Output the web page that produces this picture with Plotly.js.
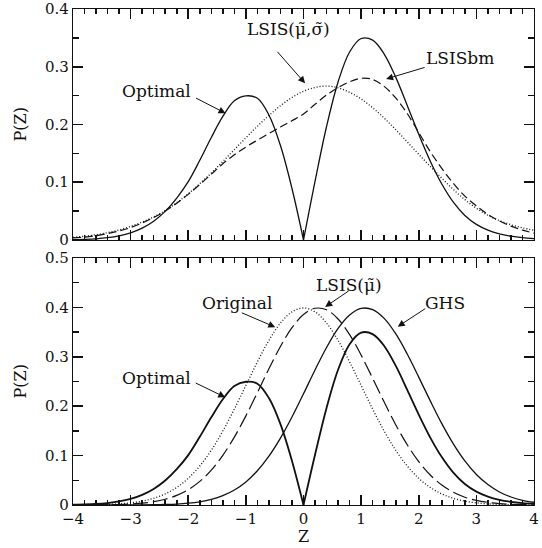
<!DOCTYPE html>
<html>
<head>
<meta charset="utf-8">
<script src="https://cdn.plot.ly/plotly-3.0.1.min.js"></script>
<style>html,body{margin:0;padding:0;background:#fff;}#plot{width:542px;height:548px;}</style>
</head>
<body>
<div id="plot"></div>
<script>
// z grid (step 0.2)
var Z = [-4.0,-3.8,-3.6,-3.4,-3.2,-3.0,-2.8,-2.6,-2.4,-2.2,-2.0,-1.8,-1.6,-1.4,-1.2,-1.0,-0.8,-0.6,-0.4,-0.2,
          0.0, 0.2, 0.4, 0.6, 0.8, 1.0, 1.2, 1.4, 1.6, 1.8, 2.0, 2.2, 2.4, 2.6, 2.8, 3.0, 3.2, 3.4, 3.6, 3.8, 4.0];

// Optimal density (same in both panels), split at the cusp z = 0
var optimalLeft  = [0.0005,0.0010,0.0020,0.0040,0.0072,0.0124,0.0205,0.0325,0.0495,0.0725,0.1010,0.1380,0.1775,0.2140,0.2410,0.2495,0.2455,0.2164,0.1636,0.0892,0.0];
var optimalRight = [0.0,0.1017,0.1965,0.2737,0.3256,0.3489,0.3460,0.3220,0.2820,0.2330,0.1830,0.1365,0.0970,0.0655,0.0425,0.0270,0.0170,0.0105,0.0065,0.0040,0.0025];

// top panel
var lsisMuSigma = [0.0045,0.0065,0.0092,0.0128,0.0175,0.0235,0.0310,0.0400,0.0510,0.0645,0.0800,0.0975,0.1160,0.1360,0.1565,0.1770,0.1970,0.2155,0.2325,0.2468,
                   0.2576,0.2641,0.2665,0.2635,0.2557,0.2442,0.2290,0.2111,0.1911,0.1699,0.1484,0.1274,0.1070,0.0875,0.0700,0.0550,0.0428,0.0335,0.0265,0.0210,0.0168];
var lsisBm = [0.0035,0.0050,0.0075,0.0110,0.0155,0.0215,0.0295,0.0390,0.0500,0.0635,0.0790,0.0960,0.1140,0.1320,0.1475,0.1610,0.1730,0.1845,0.1955,0.2065,
              0.2180,0.2350,0.2510,0.2640,0.2740,0.2800,0.2780,0.2660,0.2460,0.2190,0.1860,0.1530,0.1240,0.0980,0.0760,0.0590,0.0445,0.0330,0.0240,0.0170,0.0118];

// bottom panel
var original = [0.0001,0.0003,0.0006,0.0012,0.0024,0.0044,0.0079,0.0136,0.0224,0.0355,0.0540,0.0790,0.1109,0.1497,0.1942,0.2420,0.2897,0.3332,0.3683,0.3910,
                0.3989,0.3910,0.3683,0.3332,0.2897,0.2420,0.1942,0.1497,0.1109,0.0790,0.0540,0.0355,0.0224,0.0136,0.0079,0.0044,0.0024,0.0012,0.0006,0.0003,0.0001];
var lsisMu = [0.0000,0.0001,0.0002,0.0005,0.0010,0.0020,0.0037,0.0067,0.0116,0.0194,0.0310,0.0478,0.0707,0.1006,0.1374,0.1804,0.2275,0.2756,0.3209,0.3589,
              0.3857,0.3982,0.3951,0.3765,0.3448,0.3034,0.2565,0.2083,0.1626,0.1219,0.0878,0.0608,0.0404,0.0258,0.0158,0.0093,0.0053,0.0029,0.0015,0.0008,0.0004];
var ghs = [0.0000,0.0000,0.0000,0.0000,0.0000,0.0001,0.0002,0.0005,0.0010,0.0019,0.0036,0.0065,0.0113,0.0189,0.0303,0.0468,0.0694,0.0989,0.1354,0.1781,
           0.2251,0.2733,0.3188,0.3573,0.3846,0.3980,0.3956,0.3778,0.3467,0.3056,0.2589,0.2107,0.1647,0.1238,0.0893,0.0619,0.0413,0.0264,0.0162,0.0096,0.0055];

var zLeft = Z.slice(0, 21), zRight = Z.slice(20);
var FONT = 'DejaVu Serif, Liberation Serif, serif';
var INK = '#111111';

function tr(x, y, xa, ya, width, dash) {
  return {x: x, y: y, xaxis: xa, yaxis: ya, type: 'scatter', mode: 'lines',
          line: {color: INK, width: width, dash: dash, shape: 'spline', smoothing: 1}};
}

var data = [
  // top panel
  tr(zLeft, optimalLeft, 'x2', 'y2', 1.3, 'solid'),
  tr(zRight, optimalRight, 'x2', 'y2', 1.3, 'solid'),
  tr(Z, lsisMuSigma, 'x2', 'y2', 1.3, '1px,2px'),
  tr(Z, lsisBm, 'x2', 'y2', 1.2, '8px,4px'),
  // bottom panel
  tr(zLeft, optimalLeft, 'x', 'y', 1.8, 'solid'),
  tr(zRight, optimalRight, 'x', 'y', 1.8, 'solid'),
  tr(Z, original, 'x', 'y', 1.3, '1px,2px'),
  tr(Z, lsisMu, 'x', 'y', 1.2, '15px,5px'),
  tr(Z, ghs, 'x', 'y', 1.3, 'solid')
];

function xax(anchor, labels) {
  return {
    anchor: anchor, domain: [0, 1], range: [-4, 4], dtick: 1,
    ticks: 'inside', ticklen: 10, tickwidth: 1.6, tickcolor: INK,
    minor: {dtick: 0.2, ticks: 'inside', ticklen: 5, tickwidth: 1.6, tickcolor: INK},
    mirror: 'allticks', showline: true, linecolor: INK, linewidth: 1.2,
    showgrid: false, zeroline: false, showticklabels: labels,
    tickfont: {family: FONT, size: 15, color: INK}
  };
}
function yax(anchor, domain, range) {
  return {
    anchor: anchor, domain: domain, range: range, dtick: 0.1,
    ticks: 'inside', ticklen: 10, tickwidth: 1.6, tickcolor: INK,
    minor: {dtick: 0.05, ticks: 'inside', ticklen: 6, tickwidth: 1.6, tickcolor: INK},
    mirror: 'allticks', showline: true, linecolor: INK, linewidth: 1.2,
    showgrid: false, zeroline: false,
    tickfont: {family: FONT, size: 15, color: INK}
  };
}

function lab(text, x, y, xr, yr) {
  return {text: text, x: x, y: y, xref: xr, yref: yr, showarrow: false,
          xanchor: 'center', yanchor: 'middle', font: {family: FONT, size: 17, color: INK}};
}
function arr(x, y, ax, ay, xr, yr) {
  return {text: '', x: x, y: y, xref: xr, yref: yr, ax: ax, ay: ay, showarrow: true,
          arrowhead: 2, arrowsize: 1.4, arrowwidth: 1, arrowcolor: INK, standoff: 0};
}
function axisLabel(text, x, y, angle) {
  return {text: text, x: x, y: y, xref: 'paper', yref: 'paper', showarrow: false, textangle: angle,
          xanchor: 'center', yanchor: 'middle', font: {family: FONT, size: 16, color: INK}};
}

var annotations = [
  axisLabel('P(Z)', -0.113, 0.767, -90),
  axisLabel('P(Z)', -0.113, 0.249, -90),
  axisLabel('Z', 0.5, -0.064, 0),

  lab('Optimal', -2.546, 0.258, 'x2', 'y2'),
  arr(-1.353, 0.2194, -31, -16, 'x2', 'y2'),
  lab('LSIS(\u03bc\u0303,\u03c3\u0303)', -0.265, 0.365, 'x2', 'y2'),
  arr(0.028, 0.2713, -29, -33, 'x2', 'y2'),
  lab('LSISbm', 2.718, 0.315, 'x2', 'y2'),
  arr(1.434, 0.2788, 40, -12, 'x2', 'y2'),

  lab('Optimal', -2.546, 0.258, 'x', 'y'),
  arr(-1.358, 0.218, -31, -15, 'x', 'y'),
  lab('Original', -1.15, 0.409, 'x', 'y'),
  arr(-0.49, 0.36, -35, -15, 'x', 'y'),
  lab('LSIS(\u03bc\u0303)', 0.793, 0.445, 'x', 'y'),
  arr(0.376, 0.401, 25, -17, 'x', 'y'),
  lab('GHS', 2.457, 0.409, 'x', 'y'),
  arr(1.635, 0.361, 29, -19, 'x', 'y')
];

var layout = {
  width: 542, height: 548,
  margin: {l: 73, r: 8, t: 9, b: 43},
  showlegend: false,
  xaxis: xax('y', true),
  xaxis2: xax('y2', false),
  yaxis: yax('x', [0, 0.498], [0, 0.5]),
  yaxis2: yax('x2', [0.5343, 1], [0, 0.4]),
  annotations: annotations
};

Plotly.newPlot('plot', data, layout, {staticPlot: true});
</script>
</body>
</html>
